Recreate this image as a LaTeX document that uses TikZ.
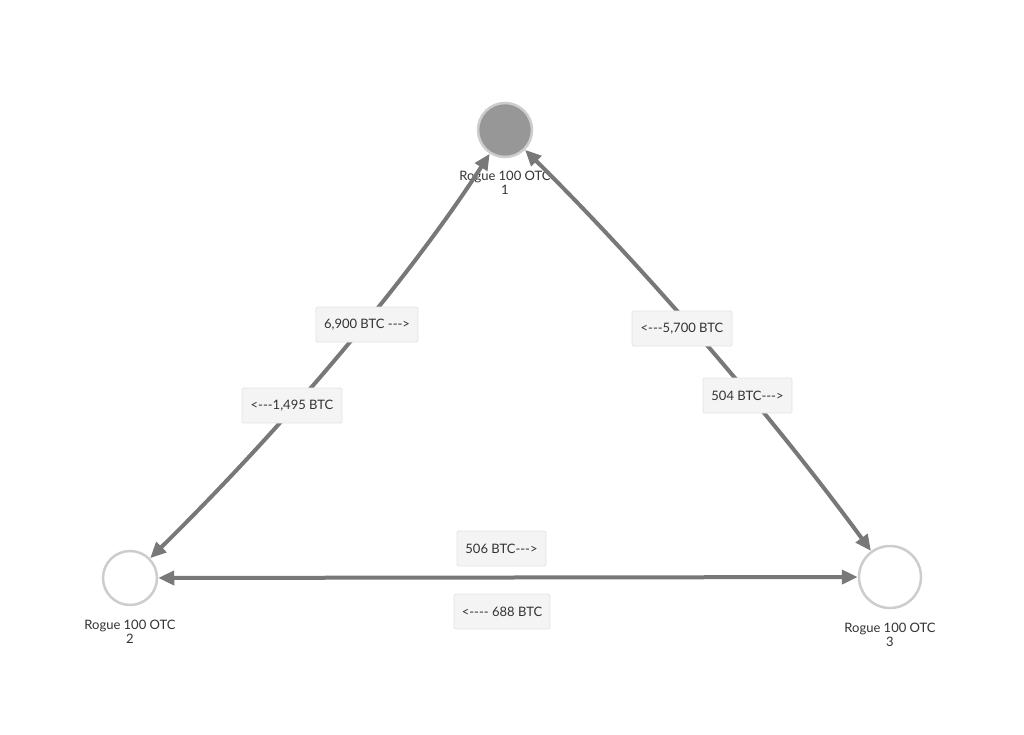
\documentclass[tikz,border=0pt]{standalone}
\usepackage{fontspec}
\setmainfont{Lato}[Ligatures=TeXOff]
\usetikzlibrary{arrows.meta}
\definecolor{edgegray}{HTML}{787878}
\definecolor{ringgray}{HTML}{CDCDCD}
\definecolor{fillgray}{HTML}{979797}
\definecolor{boxfill}{HTML}{F4F4F4}
\definecolor{boxline}{HTML}{E4E4E4}
\definecolor{txt}{HTML}{333333}
\begin{document}
\begin{tikzpicture}[x=1pt,y=-1pt,
  vert/.style={circle,draw=ringgray,line width=2.5pt,inner sep=0pt},
  vlabel/.style={align=center,text=txt,font=\fontsize{13}{14}\selectfont,inner sep=0pt},
  edge/.style={draw=edgegray,line width=4pt,{Triangle[length=16pt,width=14pt]}-{Triangle[length=16pt,width=14pt]}},
  elabel/.style={rectangle,rounded corners=1.5pt,fill=boxfill,draw=boxline,line width=0.8pt,text=txt,
    font=\fontsize{13}{14}\selectfont,minimum height=35pt,inner xsep=0pt}]
\path[use as bounding box,fill=white] (0,0) rectangle (1024,735);
\node[vert,fill=fillgray,minimum size=54pt] (n1) at (505,130) {};
\node[vert,fill=white,minimum size=54pt] (n2) at (130,578) {};
\node[vert,fill=white,minimum size=62pt] (n3) at (890,577) {};
\node[vlabel] (l1) at (505,183) {Rogue 100 OTC\\1};
\node[vlabel] (l2) at (130,632) {Rogue 100 OTC\\2};
\node[vlabel] (l3) at (890,635) {Rogue 100 OTC\\3};
\coordinate (c12a) at (412.3,274);
\coordinate (c12b) at (287.3,423.3);
\coordinate (c13a) at (645,268.7);
\coordinate (c13b) at (773.5,417.7);
\draw[edge] (n1) .. controls (c12a) and (c12b) .. (n2);
\draw[edge] (n1) .. controls (c13a) and (c13b) .. (n3);
\draw[edge] (n2) -- (n3);
\node[elabel,minimum width=102pt] (e1) at (367,324.5) {6,900 BTC --->};
\node[elabel,minimum width=100pt] (e2) at (292,405.5) {<---1,495 BTC};
\node[elabel,minimum width=100pt] (e3) at (682,328.5) {<---5,700 BTC};
\node[elabel,minimum width=89pt] (e4) at (747.5,395.5) {504 BTC--->};
\node[elabel,minimum width=89pt] (e5) at (501.5,548.5) {506 BTC--->};
\node[elabel,minimum width=96pt] (e6) at (502,611.5) {<---- 688 BTC};
\end{tikzpicture}
\end{document}
